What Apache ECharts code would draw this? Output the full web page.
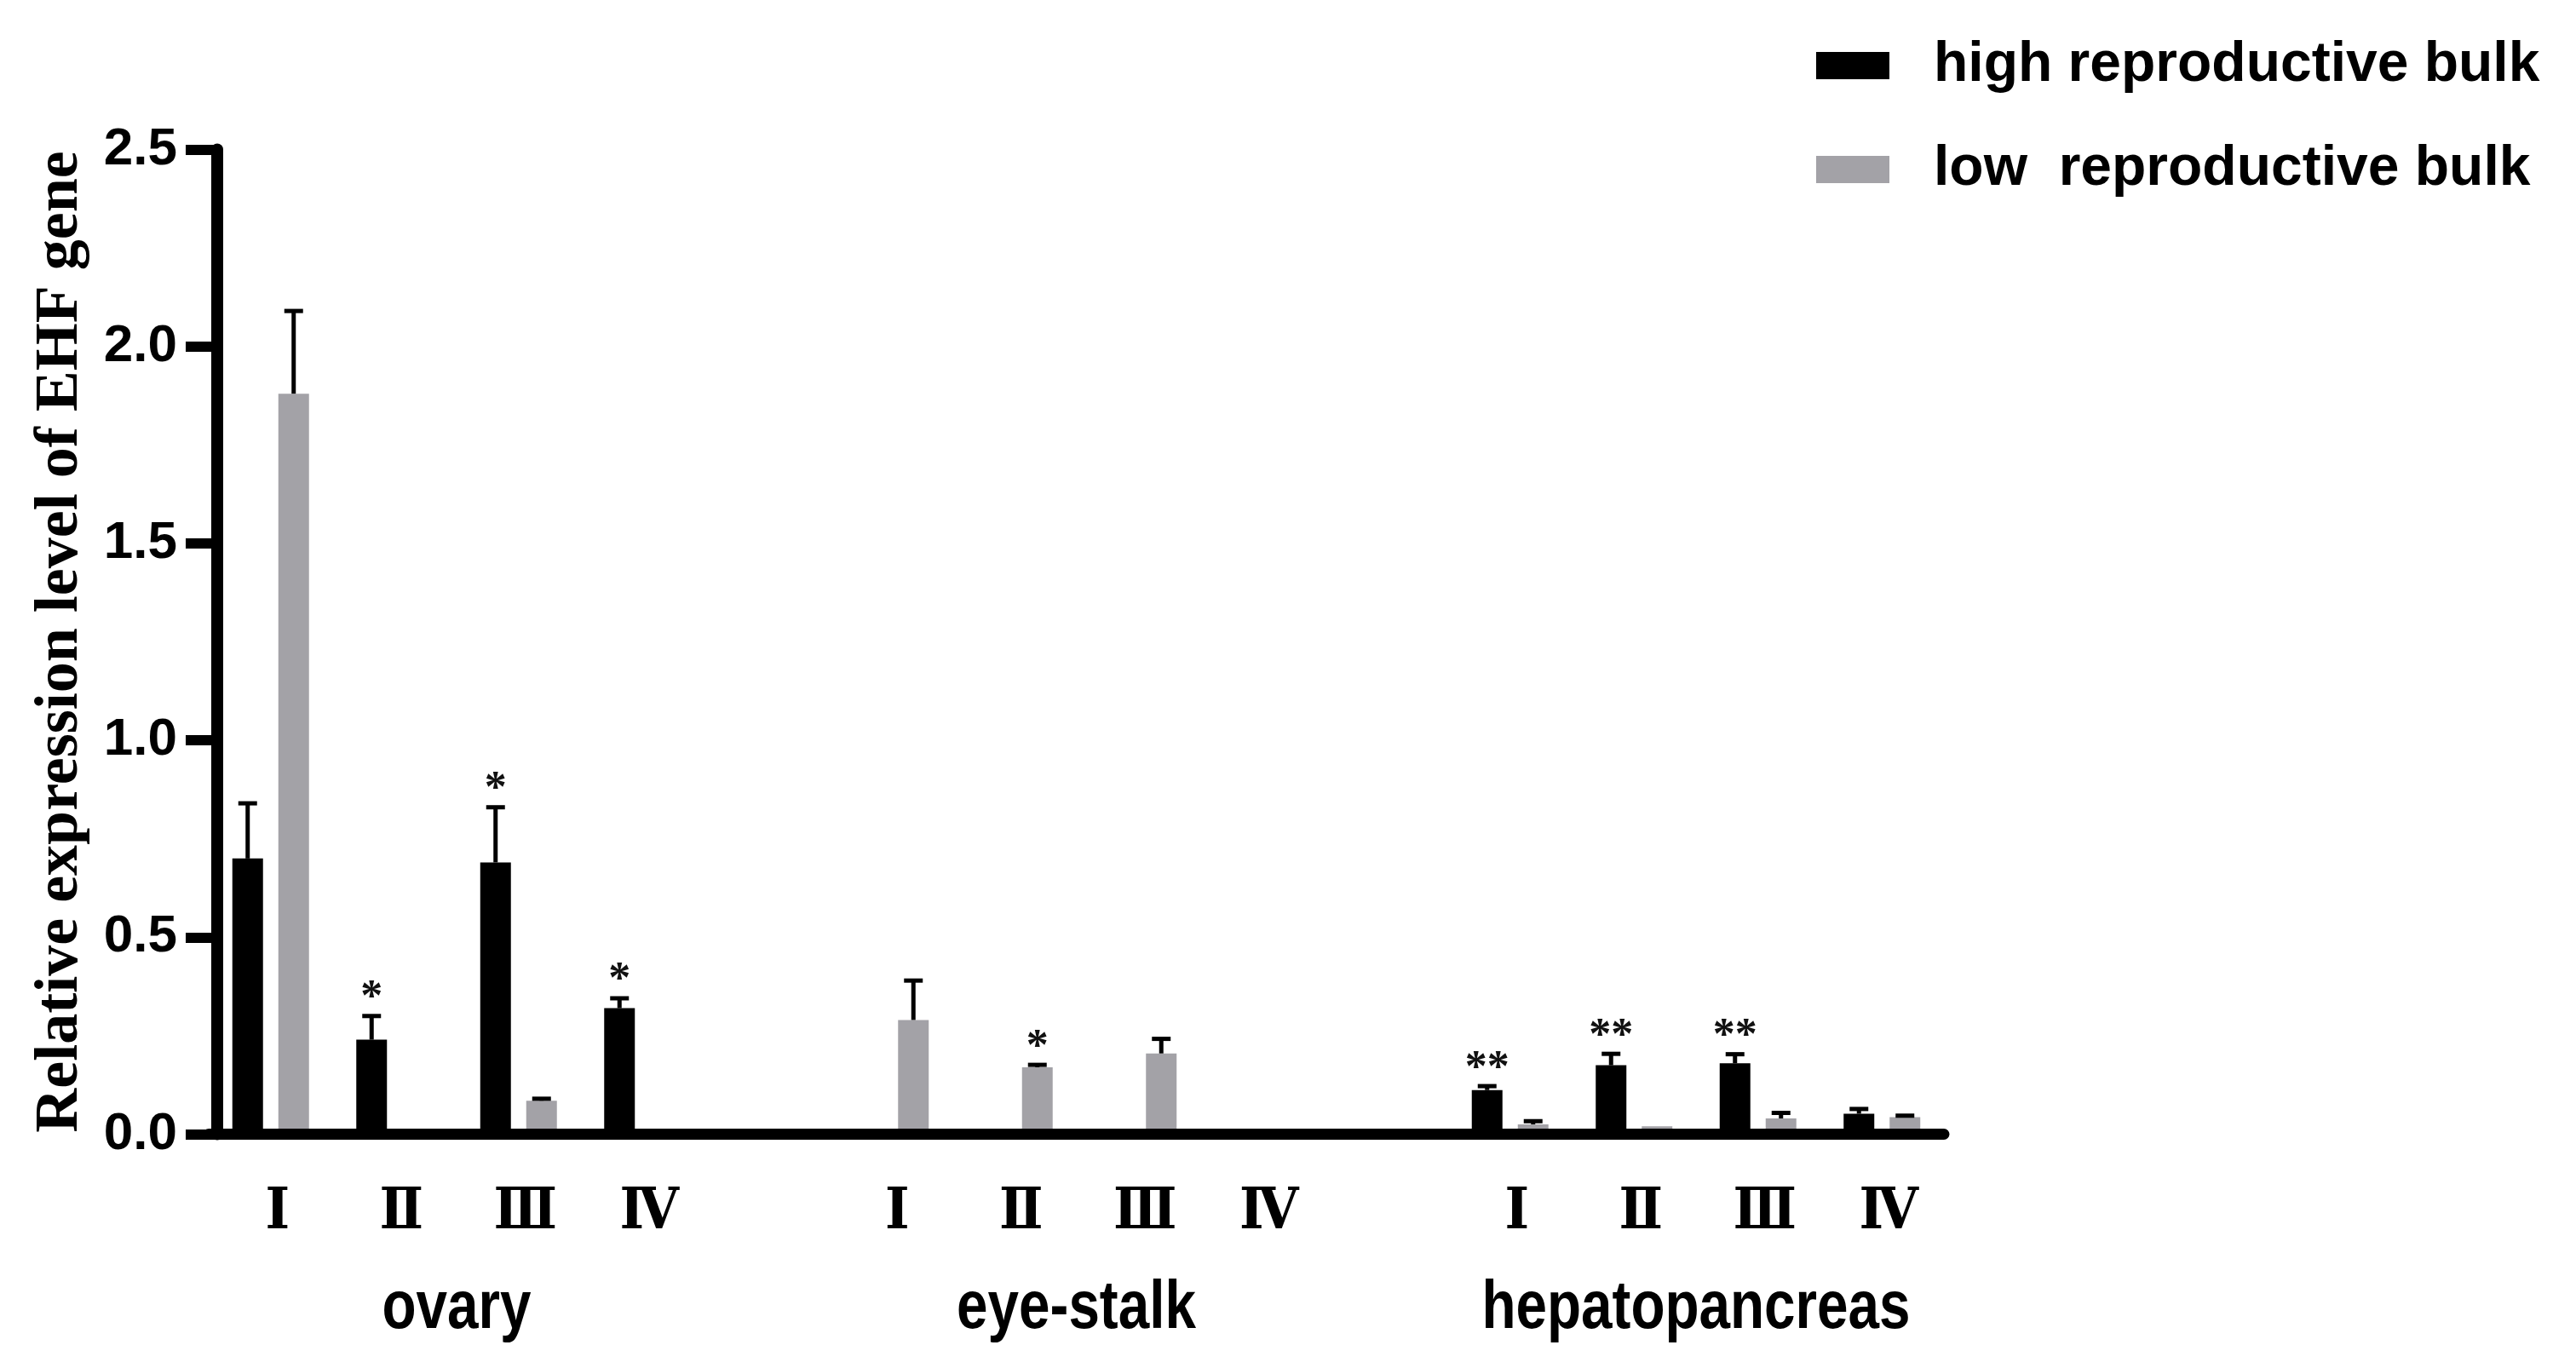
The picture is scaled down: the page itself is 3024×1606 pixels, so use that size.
<!DOCTYPE html>
<html>
<head>
<meta charset="utf-8" />
<title>EHF relative expression</title>
<script src="https://cdn.jsdelivr.net/npm/echarts@6/dist/echarts.min.js"></script>
<style>html,body{margin:0;padding:0;background:#fff;}</style>
</head>
<body>
<div id="main" style="width:3024px;height:1606px;"></div>
<script>
// x slots: 4 stages per tissue, with an empty slot between tissues
var stages = ['Ⅰ', 'Ⅱ', 'Ⅲ', 'Ⅳ', '', 'Ⅰ', 'Ⅱ', 'Ⅲ', 'Ⅳ', '', 'Ⅰ', 'Ⅱ', 'Ⅲ', 'Ⅳ'];
var tissues = ['ovary', 'eye-stalk', 'hepatopancreas'];
var tissueSlots = [[0, 3], [5, 8], [10, 13]];
var seriesNames = ['high reproductive bulk', 'low  reproductive bulk'];

// means and (upper) SD
var highMean = [0.70, 0.24, 0.69, 0.32, null, 0, 0, 0, 0, null, 0.112, 0.175, 0.18, 0.052];
var highErr  = [0.14, 0.06, 0.14, 0.025, null, 0, 0, 0, 0, null, 0.01, 0.029, 0.023, 0.012];
var lowMean  = [1.88, 0, 0.085, 0, null, 0.29, 0.17, 0.205, 0, null, 0.025, 0.02, 0.04, 0.043];
var lowErr   = [0.21, 0, 0.005, 0, null, 0.10, 0.006, 0.037, 0, null, 0.008, 0, 0.014, 0.004];
var highSig  = ['', '*', '*', '*', '', '', '', '', '', '', '**', '**', '**', ''];
var lowSig   = ['', '', '', '', '', '', '*', '', '', '', '', '', '', ''];

var yTicks = [0, 0.5, 1.0, 1.5, 2.0, 2.5];

var black = '#000000';
var grey = '#a3a2a7';
var barW = 36;
var sans = '"Liberation Sans", Arial, sans-serif';

var chart = echarts.init(document.getElementById('main'));

function errData(mean, err) {
  var out = [];
  for (var i = 0; i < mean.length; i++) {
    if (mean[i] === null) continue;
    out.push([i, mean[i], err[i]]);
  }
  return out;
}

// error bar + significance stars, shifted onto the matching bar of each pair
function errorBar(offset, sigs) {
  return function (params, api) {
    var i = api.value(0), m = api.value(1), e = api.value(2);
    var base = api.coord([i, m]);
    var top = api.coord([i, m + e]);
    var x = base[0] + offset;
    var kids = [];
    if (e > 0) {
      kids.push({type: 'line', shape: {x1: x, y1: base[1], x2: x, y2: top[1]},
        style: {stroke: '#000', lineWidth: 5}});
      kids.push({type: 'line', shape: {x1: x - 11, y1: top[1], x2: x + 11, y2: top[1]},
        style: {stroke: '#000', lineWidth: 5}});
    }
    if (sigs[i]) {
      kids.push({type: 'text', x: x, y: top[1] - 20,
        style: {text: sigs[i], fill: '#111', font: 'bold 52px "Liberation Serif", serif',
          align: 'center', verticalAlign: 'middle'}});
    }
    return {type: 'group', children: kids};
  };
}

var option = {
  backgroundColor: '#fff',
  animation: false,
  grid: {left: 245, width: 2037, top: 175.5, bottom: 274.5, containLabel: false},
  legend: {
    orient: 'vertical', left: 2127, top: 32, itemWidth: 86, itemHeight: 32, itemGap: 42,
    icon: 'rect', data: seriesNames,
    textStyle: {fontFamily: sans, fontWeight: 'bold', fontSize: 66, color: '#000',
      lineHeight: 80, padding: [0, 0, 0, 47]}
  },
  xAxis: {
    type: 'category', data: stages, z: 10,
    axisLine: {lineStyle: {color: '#000', width: 13}},
    axisTick: {alignWithLabel: true, length: 40, lineStyle: {color: '#000', width: 12}},
    axisLabel: {interval: 0, margin: 59, color: '#000', fontSize: 68, fontWeight: 'bold',
      fontFamily: '"DejaVu Serif Condensed", "DejaVu Serif", serif', padding: [0, 0, 0, 16]}
  },
  yAxis: {
    type: 'value', min: 0, max: 2.5, interval: 0.5, offset: -10,
    name: 'Relative expression level of EHF gene', nameLocation: 'middle', nameGap: 148,
    nameTextStyle: {fontFamily: '"Liberation Serif", "Times New Roman", serif', fontWeight: 'bold',
      fontSize: 72, color: '#000'},
    splitLine: {show: false},
    axisLine: {show: true, lineStyle: {color: '#000', width: 14}},
    axisTick: {show: true, length: 37, lineStyle: {color: '#000', width: 12}},
    axisLabel: {margin: 47, color: '#000', fontSize: 62, fontWeight: 'bold', fontFamily: sans,
      formatter: function (v) { return yTicks.indexOf(v) >= 0 ? v.toFixed(1) : ''; }}
  },
  series: [
    {name: seriesNames[0], type: 'bar', data: highMean, barWidth: barW, barGap: '50%',
      itemStyle: {color: black}},
    {name: seriesNames[1], type: 'bar', data: lowMean, barWidth: barW, barGap: '50%',
      itemStyle: {color: grey}},
    {type: 'custom', data: errData(highMean, highErr), renderItem: errorBar(-barW * 0.75, highSig), z: 5},
    {type: 'custom', data: errData(lowMean, lowErr), renderItem: errorBar(barW * 0.75, lowSig), z: 5}
  ]
};
chart.setOption(option);

// tissue names centred under their four stages (narrowed like the original lettering)
var y0 = chart.convertToPixel({yAxisIndex: 0}, 0);
var texts = tissues.map(function (t, k) {
  var a = chart.convertToPixel({xAxisIndex: 0}, tissueSlots[k][0]);
  var b = chart.convertToPixel({xAxisIndex: 0}, tissueSlots[k][1]);
  return {type: 'text', x: (a + b) / 2, y: y0 + 205, scaleX: 0.82,
    style: {text: t, fill: '#000', font: 'bold 80px ' + sans, align: 'center', verticalAlign: 'middle'}};
});
chart.setOption({graphic: texts});
</script>
</body>
</html>
